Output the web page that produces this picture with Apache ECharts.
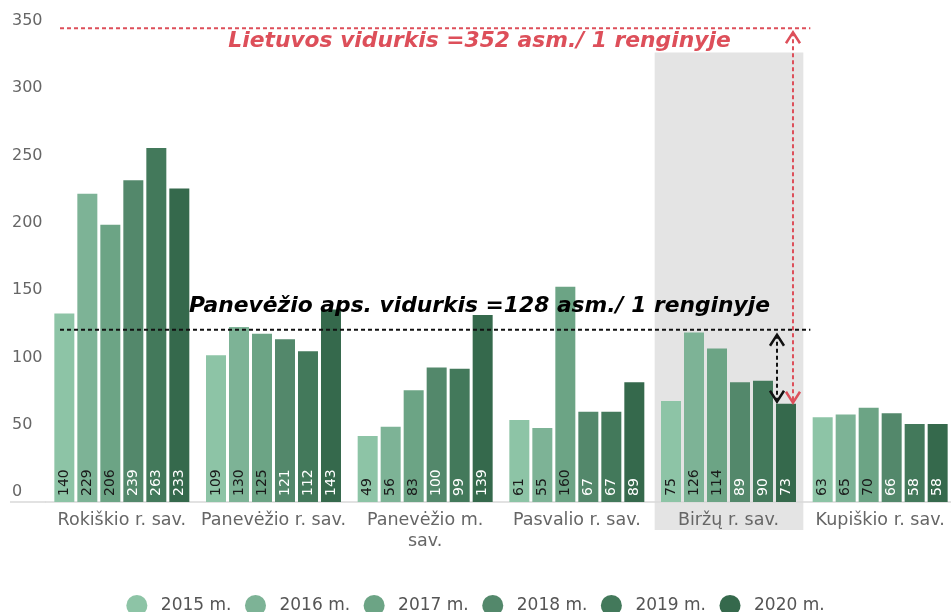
<!DOCTYPE html>
<html>
<head>
<meta charset="utf-8">
<script src="https://cdn.jsdelivr.net/npm/echarts@6/dist/echarts.min.js"></script>
<style>
  html, body { margin: 0; padding: 0; background: #fff; }
  #chart { width: 951px; height: 612px; }
</style>
</head>
<body>
<div id="chart"></div>
<script>
// Average attendance per event, by municipality and year
const categories = ['Rokiškio r. sav.', 'Panevėžio r. sav.', 'Panevėžio m. sav.', 'Pasvalio r. sav.', 'Biržų r. sav.', 'Kupiškio r. sav.'];
const years = ['2015 m.', '2016 m.', '2017 m.', '2018 m.', '2019 m.', '2020 m.'];
const v2015 = [140, 109, 49, 61, 75, 63];
const v2016 = [229, 130, 56, 55, 126, 65];
const v2017 = [206, 125, 83, 160, 114, 70];
const v2018 = [239, 121, 100, 67, 89, 66];
const v2019 = [263, 112, 99, 67, 90, 58];
const v2020 = [233, 143, 139, 89, 73, 58];
const seriesValues = [v2015, v2016, v2017, v2018, v2019, v2020];

// Reference averages
const countyAverage = 128;
const nationalAverage = 352;
const countyText = 'Panevėžio aps. vidurkis =' + countyAverage + ' asm./ 1 renginyje';
const nationalText = 'Lietuvos vidurkis =' + nationalAverage + ' asm./ 1 renginyje';
const highlighted = 'Biržų r. sav.';

const palette = ['#8dc4a6', '#7db396', '#6ca485', '#53886b', '#43795b', '#35694c'];
const labelColors = ['#1a1a1a', '#1a1a1a', '#1a1a1a', '#ffffff', '#ffffff', '#ffffff'];
const FONT = '"DejaVu Sans", Verdana, sans-serif';
const RED = '#dd4f5a';
const CAT_GAP = 0.11, BAR_GAP = 0.15;
const CAT_FONT_SIZE = 17.5;

// Wrap a category name before its last word when it is wider than the limit
const measureCtx = document.createElement('canvas').getContext('2d');
function wrapCategory(name) {
  measureCtx.font = CAT_FONT_SIZE + 'px ' + FONT;
  if (measureCtx.measureText(name).width <= 152) return name;
  const cut = name.lastIndexOf(' ');
  return name.slice(0, cut) + '\n' + name.slice(cut + 1);
}

// Geometry of the bars inside one category band (same rule as the bar layout)
function barGeometry(api, catIdx, barIdx) {
  const band = api.size([1, 0])[0];
  const cx = api.coord([catIdx, 0])[0];
  const n = years.length;
  const bw = (band - band * CAT_GAP) / (n + (n - 1) * BAR_GAP);
  const total = n * bw + (n - 1) * bw * BAR_GAP;
  const left = cx - total / 2 + barIdx * bw * (1 + BAR_GAP);
  return { left: left, right: left + bw, band: band, cx: cx };
}

function chevron(x, y, dir, color) {
  // open arrow head, tip at (x, y); dir = -1 points up, +1 points down
  return {
    type: 'polyline',
    shape: { points: [[x - 7, y - dir * 11], [x, y], [x + 7, y - dir * 11]] },
    style: { stroke: color, lineWidth: 2.5, fill: null }
  };
}

function renderHighlight(params, api) {
  const idx = categories.indexOf(highlighted);
  const g = barGeometry(api, idx, 0);
  const yTop = api.coord([idx, 334])[1];
  const yBase = api.coord([idx, 0])[1];
  return {
    type: 'rect',
    shape: { x: g.cx - g.band / 2 + 2, y: yTop, width: g.band - 3, height: yBase + 28 - yTop },
    style: { fill: '#e4e4e4' }
  };
}

function renderNotes(params, api) {
  const idx = categories.indexOf(highlighted);
  const last = barGeometry(api, idx, years.length - 1);
  const first = barGeometry(api, 0, 0);
  const yZero = api.coord([0, 0])[1];
  const yNat = api.coord([idx, nationalAverage])[1];
  const yCty = api.coord([idx, countyAverage])[1];
  const yBar = api.coord([idx, v2020[idx]])[1];
  const xStart = first.cx - first.band / 2 + 14;
  const xEnd = last.cx + last.band / 2 + 6;
  const xRed = last.right - 3;
  const xBlack = last.left + 1;
  const midX = api.getWidth() / 2 + 4;
  return {
    type: 'group',
    children: [
      // axis baseline carried under the value labels
      { type: 'line', shape: { x1: 10, y1: yZero, x2: xStart - 14, y2: yZero }, style: { stroke: '#d9d9d9', lineWidth: 1.5 } },
      // national average
      { type: 'line', shape: { x1: xStart, y1: yNat, x2: xEnd, y2: yNat }, style: { stroke: RED, lineWidth: 2, lineDash: [4, 3] } },
      { type: 'text', x: midX, y: yNat + 13, style: { text: nationalText, fill: RED, font: 'italic bold 21.8px ' + FONT, align: 'center', verticalAlign: 'middle' } },
      { type: 'line', shape: { x1: xRed, y1: yNat + 4, x2: xRed, y2: yBar - 1 }, style: { stroke: RED, lineWidth: 2, lineDash: [4, 3] } },
      chevron(xRed, yNat + 4, -1, RED),
      chevron(xRed, yBar - 1, 1, RED),
      // county average
      { type: 'line', shape: { x1: xStart, y1: yCty, x2: xEnd, y2: yCty }, style: { stroke: '#111', lineWidth: 2, lineDash: [4, 3] } },
      { type: 'text', x: midX, y: yCty - 23, style: { text: countyText, fill: '#000', font: 'italic bold 21.8px ' + FONT, align: 'center', verticalAlign: 'middle' } },
      { type: 'line', shape: { x1: xBlack, y1: yCty + 5, x2: xBlack, y2: yBar - 2 }, style: { stroke: '#111', lineWidth: 2, lineDash: [4, 3] } },
      chevron(xBlack, yCty + 5, -1, '#111'),
      chevron(xBlack, yBar - 2, 1, '#111')
    ]
  };
}

const barSeries = years.map(function (name, i) {
  return {
    name: name,
    type: 'bar',
    z: 2,
    barGap: (BAR_GAP * 100) + '%',
    barCategoryGap: (CAT_GAP * 100) + '%',
    itemStyle: { color: palette[i] },
    data: seriesValues[i],
    label: {
      show: true,
      position: 'insideBottom',
      rotate: 90,
      align: 'left',
      verticalAlign: 'middle',
      distance: 6,
      color: labelColors[i],
      fontFamily: FONT,
      fontSize: 14
    }
  };
});

const chart = echarts.init(document.getElementById('chart'), null, { renderer: 'canvas' });
chart.setOption({
  animation: false,
  backgroundColor: '#ffffff',
  color: palette,
  grid: { left: 46, right: -5, top: 4, bottom: 110, containLabel: false, outerBoundsMode: 'none' },
  legend: {
    data: years,
    icon: 'circle',
    itemWidth: 38,
    itemHeight: 21,
    itemGap: 13.5,
    left: 'center',
    top: 590,
    textStyle: { fontFamily: FONT, fontSize: 17, color: '#555' }
  },
  xAxis: {
    type: 'category',
    data: categories,
    axisLine: { lineStyle: { color: '#d9d9d9', width: 1.5 } },
    axisTick: { show: false },
    axisLabel: {
      interval: 0,
      hideOverlap: false,
      color: '#666',
      fontFamily: FONT,
      fontSize: CAT_FONT_SIZE,
      margin: 8,
      lineHeight: 21,
      formatter: wrapCategory
    }
  },
  yAxis: {
    type: 'value',
    min: 0,
    max: 370,
    interval: 50,
    splitLine: { show: false },
    axisLine: { show: false },
    axisTick: { show: false },
    axisLabel: {
      showMaxLabel: false,
      color: '#666',
      fontFamily: FONT,
      fontSize: 16,
      align: 'left',
      margin: 34,
      verticalAlign: 'bottom',
      lineHeight: 20
    }
  },
  series: [
    { type: 'custom', name: 'highlight', z: -1, silent: true, data: [[0, 0]], renderItem: renderHighlight }
  ].concat(barSeries).concat([
    { type: 'custom', name: 'averages', z: 10, silent: true, data: [[0, 0]], renderItem: renderNotes }
  ])
});
</script>
</body>
</html>
